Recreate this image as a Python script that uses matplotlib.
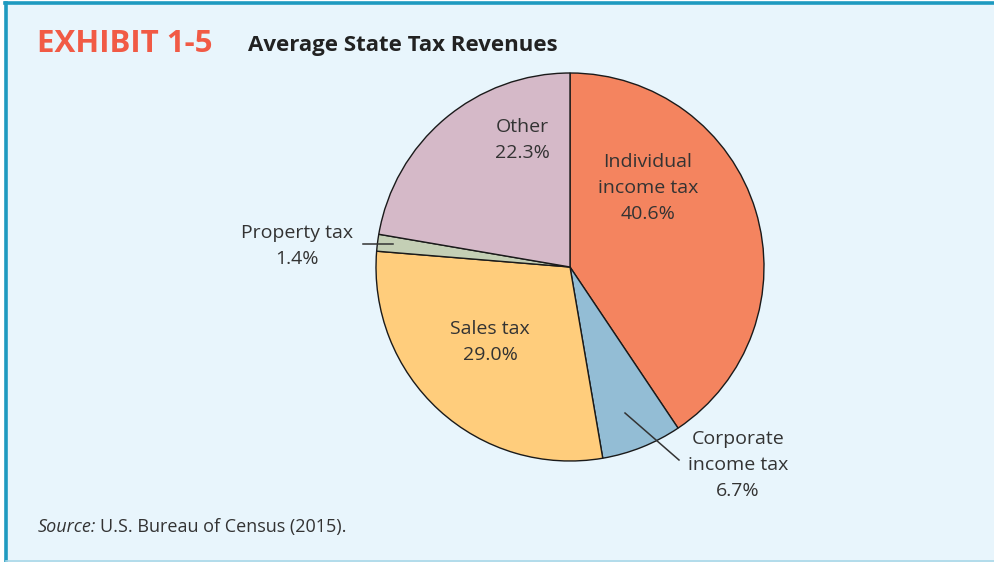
import matplotlib
matplotlib.use("Agg")
import matplotlib.pyplot as plt
from matplotlib.patches import Rectangle
from matplotlib.lines import Line2D

categories = ["Individual\nincome tax", "Corporate\nincome tax", "Sales tax", "Property tax", "Other"]
values = [40.6, 6.7, 29.0, 1.4, 22.3]
colors = ["#F4845F", "#93BDD5", "#FFCD7C", "#C4CFB5", "#D5B9C8"]

W, H = 995, 562
FONT = "Open Sans"
TXT = "#333333"

fig = plt.figure(figsize=(W / 100, H / 100), dpi=100)
fig.patch.set_facecolor("white")

def fx(px):
    return px / W

def fy(py):
    return 1 - py / H

# background panel
bg = Rectangle((fx(6), 0), 1 - fx(6), fy(3), transform=fig.transFigure,
               facecolor="#E8F5FC", edgecolor="none", zorder=-5)
fig.add_artist(bg)
fig.add_artist(Line2D([fx(5), 1], [fy(3), fy(3)], transform=fig.transFigure,
                      color="#1E9AC0", lw=2.6, zorder=1))
fig.add_artist(Line2D([fx(6), fx(6)], [0, fy(3)], transform=fig.transFigure,
                      color="#1E9AC0", lw=2.6, zorder=1))
fig.add_artist(Line2D([fx(6), 1], [fy(561), fy(561)], transform=fig.transFigure,
                      color="#A9D8E8", lw=1.2, zorder=1))

# title
fig.text(fx(37), fy(44), "EXHIBIT 1-5", color="#F15A45", fontsize=22.5,
         fontweight="bold", family=FONT, va="center", ha="left")
fig.text(fx(248), fy(45), "Average State Tax Revenues", color="#222222", fontsize=16,
         fontweight="bold", family=FONT, va="center", ha="left")

# pie
cx, cy, R = 570, 267, 194
ax = fig.add_axes([fx(cx - R), (H - cy - R) / H, 2 * R / W, 2 * R / H], zorder=2)
ax.patch.set_visible(False)
ax.pie(values, colors=colors, startangle=90, counterclock=False, radius=1,
       wedgeprops=dict(edgecolor="#1a1a1a", linewidth=1.0))
ax.set_xlim(-1, 1)
ax.set_ylim(-1, 1)
ax.axis("off")

def d(px, py):
    return ((px - cx) / R, (cy - py) / R)

labels = [
    (categories[0] + "\n" + f"{values[0]:.1f}%", 648, 188),
    (categories[1] + "\n" + f"{values[1]:.1f}%", 738, 465),
    (categories[2] + "\n" + f"{values[2]:.1f}%", 490, 342),
    (categories[3] + "\n" + f"{values[3]:.1f}%", 297, 246),
    (categories[4] + "\n" + f"{values[4]:.1f}%", 522, 140),
]
for txt, px, py in labels:
    x, y = d(px, py)
    ax.text(x, y, txt, ha="center", va="center", fontsize=14, color=TXT,
            family=FONT, linespacing=1.58, clip_on=False)

# leader lines
for (x0, y0), (x1, y1) in [((363, 244), (393, 244)), ((625, 413), (679, 460))]:
    a = d(x0, y0)
    b = d(x1, y1)
    ax.plot([a[0], b[0]], [a[1], b[1]], color="#333333", lw=1.1, clip_on=False)

# source
t1 = fig.text(fx(38), fy(527), "Source:", fontsize=13, style="italic", family=FONT,
              color=TXT, va="center", ha="left")
fig.canvas.draw()
bb = t1.get_window_extent()
fig.text(bb.x1 / W + fx(4), fy(527), "U.S. Bureau of Census (2015).", fontsize=13,
         family=FONT, color=TXT, va="center", ha="left")

fig.savefig("out.png", dpi=100, facecolor=fig.get_facecolor())
